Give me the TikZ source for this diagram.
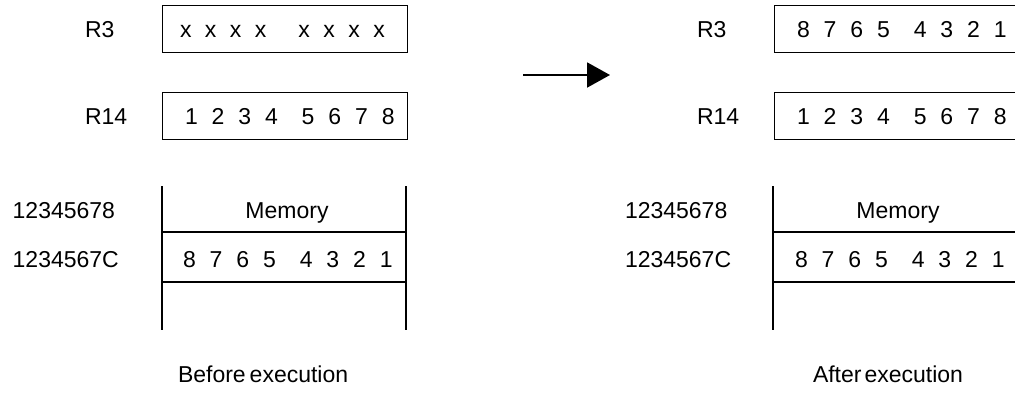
\documentclass[tikz,border=0pt]{standalone}
\usepackage{fontspec}
\setmainfont{Liberation Sans}
\usetikzlibrary{arrows.meta}
\newcommand\sd{\hspace{13.9pt}}
\newcommand\gd{\hspace{23.9pt}}
\newcommand\sx{\hspace{13.5pt}}
\newcommand\gx{\hspace{31.8pt}}
\begin{document}
\begin{tikzpicture}[x=1pt,y=-1pt,
  every node/.style={font=\fontsize{23pt}{27pt}\selectfont},
  txt/.style={anchor=base west, inner sep=0pt, outer sep=0pt},
  txtc/.style={anchor=base, inner sep=0pt, outer sep=0pt},
  regbox/.style={draw, line width=1.2pt, inner sep=0pt, minimum width=245pt, minimum height=47pt, anchor=north west},
  memline/.style={line width=1.2pt},
  bigarrow/.style={line width=2pt, -{Triangle[length=23pt,width=25pt]}}]
\useasboundingbox (0,0) rectangle (1015,392);
\clip (0,0) rectangle (1015,392);
% ---------- left panel ----------
\node[regbox] (Lr3) at (162,5) {};
\node[regbox] (Lr14) at (162,92) {};
\node[txt] (Lr3lab) at (85,37.5) {R3};
\node[txt] (Lr14lab) at (85,124) {R14};
\node[txt] (Lr3val) at (180,37.5) {x\sx x\sx x\sx x\gx x\sx x\sx x\sx x};
\node[txt] (Lr14val) at (185,124) {1\sd2\sd3\sd4\gd5\sd6\sd7\sd8};
\coordinate (Lmtl) at (162,186);
\coordinate (Lmbl) at (162,330);
\coordinate (Lmtr) at (406,186);
\coordinate (Lmbr) at (406,330);
\coordinate (Lh1l) at (162,232);
\coordinate (Lh1r) at (406,232);
\coordinate (Lh2l) at (162,282);
\coordinate (Lh2r) at (406,282);
\draw[memline] (Lmtl) -- (Lmbl);
\draw[memline] (Lmtr) -- (Lmbr);
\draw[memline] (Lh1l) -- (Lh1r);
\draw[memline] (Lh2l) -- (Lh2r);
\node[txtc] (Lmem) at (287,218) {Memory};
\node[txt] (La1) at (12.7,218) {12345678};
\node[txt] (La2) at (12.7,267) {1234567C};
\node[txt] (Ldata) at (183,267) {8\sd7\sd6\sd5\gd4\sd3\sd2\sd1};
\node[txt] (Lcap) at (178,382) {Before\hspace{4pt}execution};
% ---------- arrow ----------
\coordinate (a0) at (523,75);
\coordinate (a1) at (610,75);
\draw[bigarrow] (a0) -- (a1);
% ---------- right panel ----------
\node[regbox, minimum width=260pt] (Rr3) at (774,5) {};
\node[regbox, minimum width=260pt] (Rr14) at (774,92) {};
\node[txt] (Rr3lab) at (697,37.5) {R3};
\node[txt] (Rr14lab) at (697,124) {R14};
\node[txt] (Rr3val) at (797,37.5) {8\sd7\sd6\sd5\gd4\sd3\sd2\sd1};
\node[txt] (Rr14val) at (797,124) {1\sd2\sd3\sd4\gd5\sd6\sd7\sd8};
\coordinate (Rmtl) at (773,186);
\coordinate (Rmbl) at (773,330);
\coordinate (Rh1l) at (773,232);
\coordinate (Rh1r) at (1020,232);
\coordinate (Rh2l) at (773,282);
\coordinate (Rh2r) at (1020,282);
\draw[memline] (Rmtl) -- (Rmbl);
\draw[memline] (Rh1l) -- (Rh1r);
\draw[memline] (Rh2l) -- (Rh2r);
\node[txtc] (Rmem) at (898,218) {Memory};
\node[txt] (Ra1) at (625,218) {12345678};
\node[txt] (Ra2) at (625,267) {1234567C};
\node[txt] (Rdata) at (795,267) {8\sd7\sd6\sd5\gd4\sd3\sd2\sd1};
\node[txt] (Rcap) at (813,382) {After\hspace{3pt}execution};
\end{tikzpicture}
\end{document}
